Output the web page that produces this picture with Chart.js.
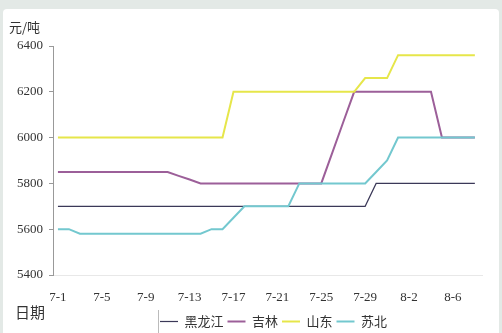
<!DOCTYPE html>
<html><head><meta charset="utf-8">
<script src="https://cdn.jsdelivr.net/npm/chart.js@4"></script>
<style>html,body{margin:0;padding:0;background:#e3e9e6;}#c{display:block;}</style>
</head><body>
<canvas id="c" width="502" height="333"></canvas>
<script>
const dates = ["7-1","7-2","7-3","7-4","7-5","7-6","7-7","7-8","7-9","7-10","7-11","7-12","7-13","7-14","7-15","7-16","7-17","7-18","7-19","7-20","7-21","7-22","7-23","7-24","7-25","7-26","7-27","7-28","7-29","7-30","7-31","8-1","8-2","8-3","8-4","8-5","8-6","8-7","8-8"];
const tickDates = ["7-1","7-5","7-9","7-13","7-17","7-21","7-25","7-29","8-2","8-6"];
const heilongjiang = [5700,5700,5700,5700,5700,5700,5700,5700,5700,5700,5700,5700,5700,5700,5700,5700,5700,5700,5700,5700,5700,5700,5700,5700,5700,5700,5700,5700,5700,5800,5800,5800,5800,5800,5800,5800,5800,5800,5800];
const jilin = [5850,5850,5850,5850,5850,5850,5850,5850,5850,5850,5850,5833,5817,5800,5800,5800,5800,5800,5800,5800,5800,5800,5800,5800,5800,5933,6067,6200,6200,6200,6200,6200,6200,6200,6200,6000,6000,6000,6000];
const shandong = [6000,6000,6000,6000,6000,6000,6000,6000,6000,6000,6000,6000,6000,6000,6000,6000,6200,6200,6200,6200,6200,6200,6200,6200,6200,6200,6200,6200,6260,6260,6260,6360,6360,6360,6360,6360,6360,6360,6360];
const subei = [5600,5600,5580,5580,5580,5580,5580,5580,5580,5580,5580,5580,5580,5580,5600,5600,5650,5700,5700,5700,5700,5700,5800,5800,5800,5800,5800,5800,5800,5850,5900,6000,6000,6000,6000,6000,6000,6000,6000];
const seriesNames = ["黑龙江","吉林","山东","苏北"];
const yTicks = [5400,5600,5800,6000,6200,6400];

const toPts = arr => arr.map((v,i)=>({x:i,y:v}));
const serif = "'Liberation Serif','DejaVu Serif',serif";
const cjk = "'Noto Sans CJK SC','Noto Sans',sans-serif";

const decor = {
  id:'decor',
  beforeDraw(chart){
    const ctx = chart.ctx;
    ctx.save();
    ctx.fillStyle = '#e3e9e6';
    ctx.fillRect(0,0,502,333);
    ctx.fillStyle = '#ffffff';
    ctx.beginPath();
    if (ctx.roundRect) ctx.roundRect(3,9,496,340,4); else ctx.rect(3,9,496,340);
    ctx.fill();
    ctx.restore();
  },
  afterLayout(chart){
    const lg = chart.legend;
    if (lg){
      const dx = 6;
      lg.left += dx; lg.right += dx;
      const h = lg.bottom - lg.top;
      lg.top = 311; lg.bottom = 311 + h;
    }
  },
  afterDraw(chart){
    const ctx = chart.ctx;
    ctx.save();
    ctx.fillStyle = '#333333';
    ctx.textBaseline = 'middle';
    ctx.textAlign = 'left';
    ctx.font = "13px " + cjk;
    ctx.fillText("元/吨", 9, 27);
    ctx.font = "15px " + cjk;
    ctx.fillText("日期", 15, 312);
    ctx.strokeStyle = '#bbbbbb';
    ctx.lineWidth = 1;
    ctx.beginPath();
    ctx.moveTo(158.5,310); ctx.lineTo(158.5,333);
    ctx.stroke();
    ctx.restore();
  }
};

new Chart(document.getElementById('c'), {
  type:'line',
  data:{
    datasets:[
      {label:seriesNames[0], data:toPts(heilongjiang), borderColor:'#3b3858', backgroundColor:'#3b3858', borderWidth:1.2, order:1},
      {label:seriesNames[1], data:toPts(jilin), borderColor:'#9c5f99', backgroundColor:'#9c5f99', borderWidth:2, order:3},
      {label:seriesNames[2], data:toPts(shandong), borderColor:'#e6e64a', backgroundColor:'#e6e64a', borderWidth:2, order:2},
      {label:seriesNames[3], data:toPts(subei), borderColor:'#73c8cf', backgroundColor:'#73c8cf', borderWidth:2, order:0}
    ]
  },
  options:{
    responsive:false,
    animation:false,
    devicePixelRatio:1,
    elements:{point:{radius:0}, line:{tension:0}},
    layout:{padding:{left:0,right:20,top:46,bottom:0}},
    plugins:{
      tooltip:{enabled:false},
      legend:{
        position:'bottom',
        fullSize:false,
        labels:{
          usePointStyle:true,
          pointStyle:'line',
          pointStyleWidth:18,
          padding:4,
          color:'#333333',
          font:{family:cjk, size:13},
          sort:(a,b)=>a.datasetIndex-b.datasetIndex
        }
      }
    },
    scales:{
      x:{
        type:'linear',
        min:-0.45,
        max:38.65,
        afterBuildTicks(scale){ scale.ticks = tickDates.map(d=>({value:dates.indexOf(d)})); },
        afterFit(scale){ scale.height = 31; },
        ticks:{
          callback:(v)=>dates[v],
          padding:15,
          maxRotation:0,
          autoSkip:false,
          color:'#333333',
          font:{family:serif, size:13}
        },
        grid:{display:false, drawTicks:false},
        border:{display:true, color:'#e8e8e8'}
      },
      y:{
        min:5400,
        max:6400,
        afterBuildTicks(scale){ scale.ticks = yTicks.map(v=>({value:v})); },
        afterFit(scale){ scale.width = 53; },
        ticks:{
          callback:(v)=>String(v),
          padding:6,
          color:'#333333',
          font:{family:serif, size:13}
        },
        grid:{display:true, drawOnChartArea:false, drawTicks:true, tickLength:4, color:'#999999'},
        border:{display:true, color:'#999999'}
      }
    }
  },
  plugins:[decor]
});
</script>
</body></html>
